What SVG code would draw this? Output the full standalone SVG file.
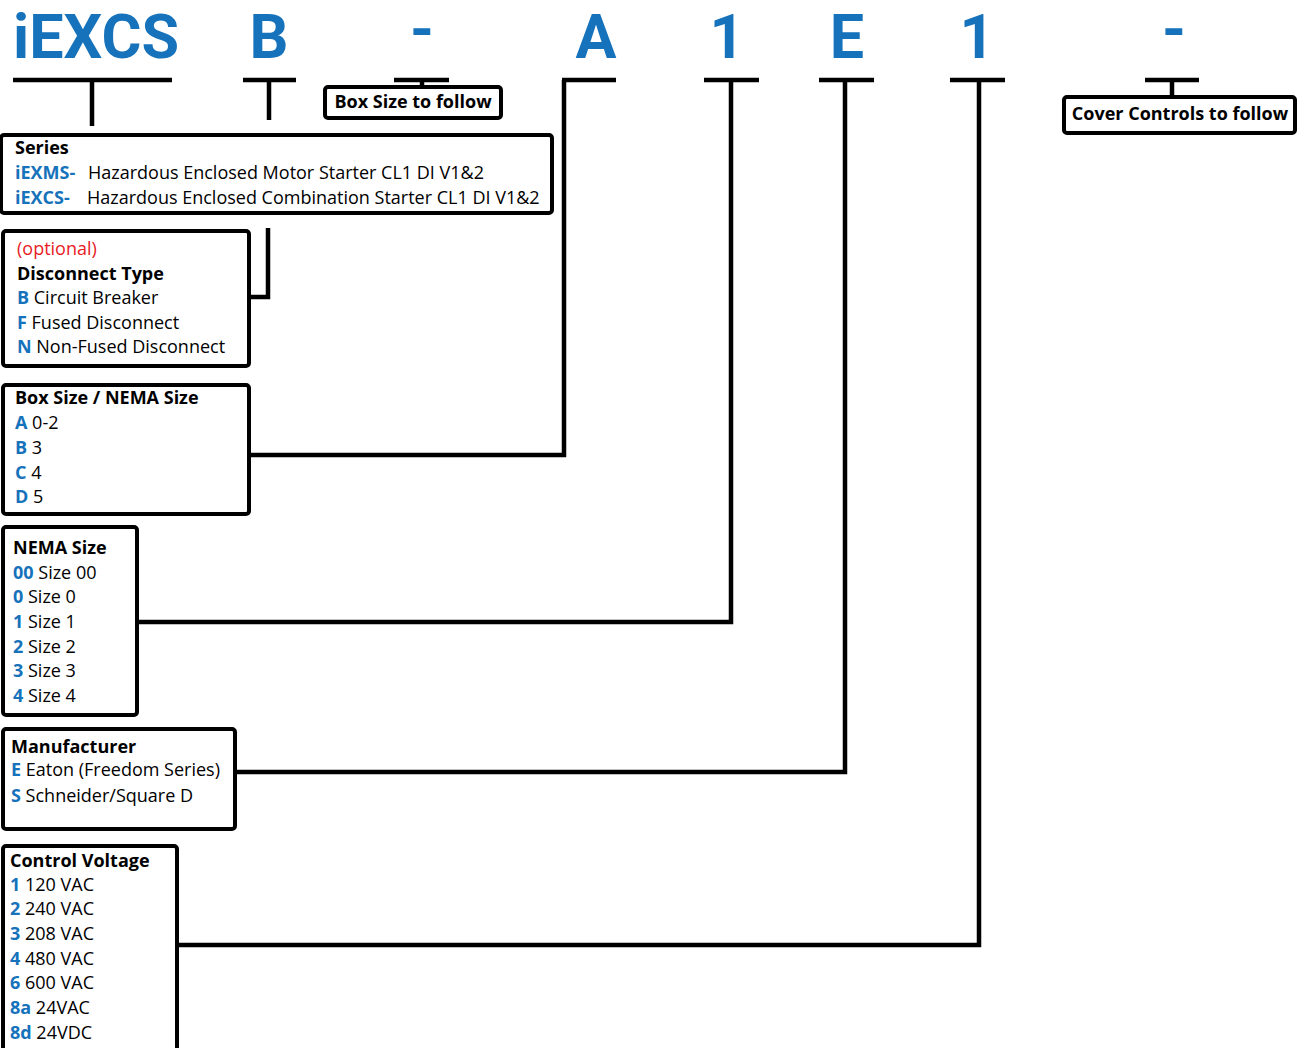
<svg xmlns="http://www.w3.org/2000/svg" width="1306" height="1048" viewBox="0 0 1306 1048">
<style>
.hdr{font-family:Roboto,"Open Sans","Liberation Sans",sans-serif;font-weight:700;font-size:61px;fill:#1572bb;text-anchor:middle}
.box{fill:#fff;stroke:#000;stroke-width:4}
.t{font-family:"Open Sans","Liberation Sans",sans-serif;font-size:18px;fill:#000}
.b{font-weight:700}
.k{font-weight:700;fill:#1572bb}
.r{fill:#e8201f}
.ln{fill:none;stroke:#000;stroke-width:4.5;stroke-linejoin:miter}
</style>
<rect width="1306" height="1048" fill="#fff"/>
<g id="header">
<text class="hdr" x="96" y="58" textLength="166" lengthAdjust="spacingAndGlyphs">iEXCS</text>
<text class="hdr" x="269" y="58">B</text>
<text class="hdr" x="422" y="50" font-size="46">-</text>
<text class="hdr" x="596" y="58">A</text>
<text class="hdr" x="727" y="58">1</text>
<text class="hdr" x="847" y="58">E</text>
<text class="hdr" x="977" y="58">1</text>
<text class="hdr" x="1174" y="50" font-size="46">-</text>
</g>
<g id="connectors">
<path class="ln" d="M13 80H172M92 80V126"/>
<path class="ln" d="M243 80H296M269 80V120"/>
<path class="ln" d="M268 228V297H250"/>
<path class="ln" d="M394 80H449M422 80V88"/>
<path class="ln" d="M562 80H616M564 80V455H250"/>
<path class="ln" d="M704 80H759M731 80V622H137"/>
<path class="ln" d="M819 80H874M845 80V772H235"/>
<path class="ln" d="M950 80H1005M979 80V945H177"/>
<path class="ln" d="M1145 80H1199M1172 80V98"/>
</g>
<g id="box-size-follow">
<rect class="box" x="325" y="87" width="176" height="31" rx="3"/>
<text class="t b" x="413" y="108" text-anchor="middle" font-size="19">Box Size to follow</text>
</g>
<g id="cover-controls">
<rect class="box" x="1064" y="97" width="231" height="36" rx="3"/>
<text class="t b" x="1180" y="120" text-anchor="middle" font-size="18.7">Cover Controls to follow</text>
</g>
<g id="series">
<rect class="box" x="1" y="135" width="551" height="78" rx="3"/>
<text class="t b" x="15" y="154">Series</text>
<text class="t k" x="15" y="179">iEXMS-</text>
<text class="t" x="88" y="179">Hazardous Enclosed Motor Starter CL1 DI V1&amp;2</text>
<text class="t k" x="15" y="204">iEXCS-</text>
<text class="t" x="87" y="204">Hazardous Enclosed Combination Starter CL1 DI V1&amp;2</text>
</g>
<g id="disconnect">
<rect class="box" x="3" y="231" width="246" height="135" rx="3"/>
<text class="t r" x="17" y="255">(optional)</text>
<text class="t b" x="17" y="280">Disconnect Type</text>
<text class="t" x="17" y="304"><tspan class="k">B</tspan> Circuit Breaker</text>
<text class="t" x="17" y="329"><tspan class="k">F</tspan> Fused Disconnect</text>
<text class="t" x="17" y="353"><tspan class="k">N</tspan> Non-Fused Disconnect</text>
</g>
<g id="boxsize">
<rect class="box" x="3" y="385" width="246" height="129" rx="3"/>
<text class="t b" x="15" y="404">Box Size / NEMA Size</text>
<text class="t" x="15" y="429"><tspan class="k">A</tspan> 0-2</text>
<text class="t" x="15" y="454"><tspan class="k">B</tspan> 3</text>
<text class="t" x="15" y="479"><tspan class="k">C</tspan> 4</text>
<text class="t" x="15" y="503"><tspan class="k">D</tspan> 5</text>
</g>
<g id="nema">
<rect class="box" x="3" y="527" width="134" height="188" rx="3"/>
<text class="t b" x="13" y="554">NEMA Size</text>
<text class="t" x="13" y="579"><tspan class="k">00</tspan> Size 00</text>
<text class="t" x="13" y="603"><tspan class="k">0</tspan> Size 0</text>
<text class="t" x="13" y="628"><tspan class="k">1</tspan> Size 1</text>
<text class="t" x="13" y="653"><tspan class="k">2</tspan> Size 2</text>
<text class="t" x="13" y="677"><tspan class="k">3</tspan> Size 3</text>
<text class="t" x="13" y="702"><tspan class="k">4</tspan> Size 4</text>
</g>
<g id="manufacturer">
<rect class="box" x="3" y="729" width="232" height="100" rx="3"/>
<text class="t b" x="11" y="753">Manufacturer</text>
<text class="t" x="11" y="776"><tspan class="k">E</tspan> Eaton (Freedom Series)</text>
<text class="t" x="11" y="802"><tspan class="k">S</tspan> Schneider/Square D</text>
</g>
<g id="control-voltage">
<rect class="box" x="3" y="846" width="174" height="220" rx="3"/>
<text class="t b" x="10" y="867">Control Voltage</text>
<text class="t" x="10" y="891"><tspan class="k">1</tspan> 120 VAC</text>
<text class="t" x="10" y="915"><tspan class="k">2</tspan> 240 VAC</text>
<text class="t" x="10" y="940"><tspan class="k">3</tspan> 208 VAC</text>
<text class="t" x="10" y="965"><tspan class="k">4</tspan> 480 VAC</text>
<text class="t" x="10" y="989"><tspan class="k">6</tspan> 600 VAC</text>
<text class="t" x="10" y="1014"><tspan class="k">8a</tspan> 24VAC</text>
<text class="t" x="10" y="1039"><tspan class="k">8d</tspan> 24VDC</text>
</g>
</svg>
